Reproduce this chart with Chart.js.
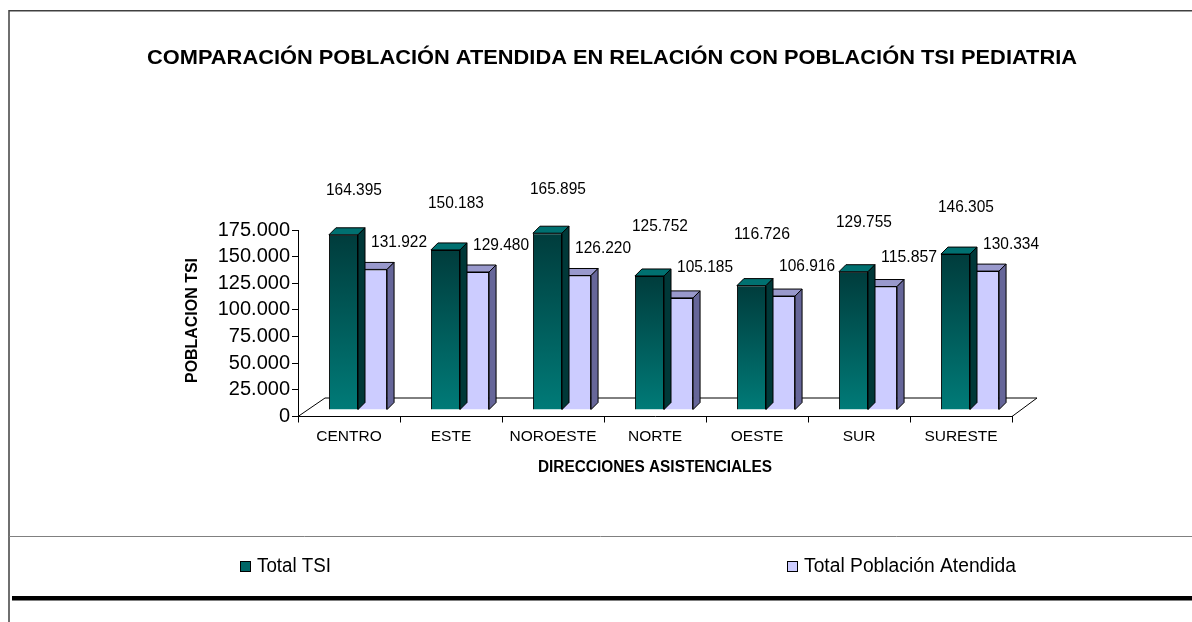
<!DOCTYPE html>
<html>
<head>
<meta charset="utf-8">
<script src="https://cdn.jsdelivr.net/npm/chart.js@4.4.1/dist/chart.umd.min.js"></script>
<style>
  html, body { margin: 0; padding: 0; background: #fff; }
  canvas { display: block; }
</style>
</head>
<body>
<canvas id="c" width="1192" height="622"></canvas>
<script>
// ---- data ----
const categories = ['CENTRO', 'ESTE', 'NOROESTE', 'NORTE', 'OESTE', 'SUR', 'SURESTE'];
const totalTSI = [164395, 150183, 165895, 125752, 116726, 129755, 146305];
const totalAtendida = [131922, 129480, 126220, 105185, 106916, 115857, 130334];
const seriesNames = ['Total TSI', 'Total Población Atendida'];
const yTickStep = 25000;
const yMax = 175000;
const chartTitle = 'COMPARACIÓN POBLACIÓN ATENDIDA EN RELACIÓN CON POBLACIÓN TSI PEDIATRIA';
const yTitle = 'POBLACION TSI';
const xTitle = 'DIRECCIONES ASISTENCIALES';

// ---- styles ----
const FONT = "'Liberation Sans', Arial, Helvetica, sans-serif";
const fmt = v => String(Math.round(v)).replace(/\B(?=(\d{3})+(?!\d))/g, '.');
const SHIFT_X = 9, SHIFT_Y = -6.5, DEPTH = 7;
const faceColors = [
  { top: '#007070', side: '#003838', legend: '#006666' },
  { top: '#9999CC', side: '#666699', legend: '#CCCCFF' }
];

function fitText(ctx, text, cx, cy, width, font, rotate) {
  ctx.save();
  ctx.font = font;
  const w = ctx.measureText(text).width;
  ctx.translate(cx, cy);
  if (rotate) ctx.rotate(-Math.PI / 2);
  ctx.scale(width / w, 1);
  ctx.textAlign = 'center';
  ctx.textBaseline = 'middle';
  ctx.fillStyle = '#000';
  ctx.fillText(text, 0, 0);
  ctx.restore();
}
function leftText(ctx, text, x, cy, width, font) {
  ctx.save();
  ctx.font = font;
  const w = ctx.measureText(text).width;
  ctx.translate(x, cy);
  ctx.scale(width / w, 1);
  ctx.textAlign = 'left';
  ctx.textBaseline = 'middle';
  ctx.fillStyle = '#000';
  ctx.fillText(text, 0, 0);
  ctx.restore();
}

const framePlugin = {
  id: 'frame',
  beforeDraw(chart) {
    const ctx = chart.ctx;
    ctx.save();
    ctx.fillStyle = '#fff';
    ctx.fillRect(0, 0, chart.width, chart.height);
    ctx.strokeStyle = '#404040';
    ctx.lineWidth = 1.5;
    ctx.beginPath();
    ctx.moveTo(9, 622); ctx.lineTo(9, 10.75); ctx.lineTo(1192, 10.75);
    ctx.stroke();
    ctx.strokeStyle = '#808080';
    ctx.lineWidth = 1;
    ctx.beginPath();
    ctx.moveTo(9, 536.5); ctx.lineTo(1192, 536.5);
    ctx.stroke();
    ctx.fillStyle = '#000';
    ctx.fillRect(12, 596, 1180, 4.5);
    ctx.restore();
  },
  beforeDatasetsDraw(chart) {
    const ctx = chart.ctx, a = chart.chartArea;
    ctx.save();
    ctx.strokeStyle = '#000';
    ctx.lineWidth = 1;
    const dx = 25, dy = 18.5;
    ctx.beginPath();
    ctx.moveTo(a.left, a.bottom); ctx.lineTo(a.left + dx + 2, a.bottom - dy);
    ctx.lineTo(a.right + dx, a.bottom - dy); ctx.lineTo(a.right, a.bottom);
    ctx.stroke();
    ctx.restore();
  },
  afterDraw(chart) {
    const ctx = chart.ctx;
    fitText(ctx, chartTitle, 612, 58, 930, 'bold 20px ' + FONT);
    fitText(ctx, yTitle, 193, 320.5, 125, 'bold 16px ' + FONT, true);
    fitText(ctx, xTitle, 655, 468, 234, 'bold 16px ' + FONT);
    // legend
    const items = [{ x: 240, w: 74 }, { x: 787, w: 212 }];
    items.forEach((it, i) => {
      ctx.save();
      ctx.fillStyle = faceColors[i].legend;
      ctx.fillRect(it.x + 0.5, 561.5, 10, 10);
      ctx.strokeStyle = '#000';
      ctx.lineWidth = 1;
      ctx.strokeRect(it.x + 0.5, 561.5, 10, 10);
      ctx.restore();
      leftText(ctx, seriesNames[i], it.x + 17, 566, it.w, '20px ' + FONT);
    });
  }
};

const bars3dPlugin = {
  id: 'bars3d',
  beforeDatasetDraw(chart) {
    chart.ctx.save();
    chart.ctx.translate(SHIFT_X, SHIFT_Y);
  },
  afterDatasetDraw(chart, args) {
    const ctx = chart.ctx;
    const meta = chart.getDatasetMeta(args.index);
    const col = faceColors[args.index];
    meta.data.forEach(bar => {
      const p = bar.getProps(['x', 'y', 'base', 'width'], true);
      const l = p.x - p.width / 2, r = p.x + p.width / 2, t = p.y, b = p.base;
      ctx.lineWidth = 1;
      ctx.strokeStyle = '#000';
      ctx.lineJoin = 'round';
      // top face
      ctx.beginPath();
      ctx.moveTo(l, t); ctx.lineTo(l + DEPTH, t - DEPTH);
      ctx.lineTo(r + DEPTH, t - DEPTH); ctx.lineTo(r, t); ctx.closePath();
      ctx.fillStyle = col.top; ctx.fill(); ctx.stroke();
      // side face
      ctx.beginPath();
      ctx.moveTo(r, t); ctx.lineTo(r + DEPTH, t - DEPTH);
      ctx.lineTo(r + DEPTH, b - DEPTH); ctx.lineTo(r, b); ctx.closePath();
      ctx.fillStyle = col.side; ctx.fill(); ctx.stroke();
    });
    ctx.restore();
  },
  afterDatasetsDraw(chart) {
    const ctx = chart.ctx, ys = chart.scales.y;
    // label placement rule (Excel 3D label layout)
    const rule = [{ k: 0.8586, c: -75.5, dx: 19.5 }, { k: 0.877, c: -50.5, dx: 35.5 }];
    ctx.save();
    ctx.fillStyle = '#000';
    chart.data.datasets.forEach((ds, di) => {
      const meta = chart.getDatasetMeta(di);
      meta.data.forEach((bar, i) => {
        const v = ds.data[i];
        const y = ys.getPixelForValue(v * rule[di].k) + rule[di].c;
        fitText(ctx, fmt(v), bar.x + rule[di].dx, y, 56, '17px ' + FONT);
      });
    });
    ctx.restore();
  }
};

const chart = new Chart(document.getElementById('c'), {
  type: 'bar',
  data: {
    labels: categories,
    datasets: [
      {
        label: seriesNames[0],
        data: totalTSI,
        backgroundColor: (ctx) => {
          const c = ctx.chart;
          if (!c.chartArea || ctx.raw === undefined) return '#006666';
          const ys = c.scales.y;
          const top = ys.getPixelForValue(ctx.raw), bot = ys.getPixelForValue(0);
          const g = c.ctx.createLinearGradient(0, top, 0, bot);
          g.addColorStop(0, '#003c3c');
          g.addColorStop(1, '#007b78');
          return g;
        },
        borderColor: '#000',
        borderWidth: 1
      },
      {
        label: seriesNames[1],
        data: totalAtendida,
        backgroundColor: '#CCCCFF',
        borderColor: '#000',
        borderWidth: 1
      }
    ]
  },
  options: {
    responsive: false,
    animation: false,
    devicePixelRatio: 1,
    layout: { padding: { top: 230, right: 180, left: 0, bottom: 0 } },
    datasets: { bar: { categoryPercentage: 0.57, barPercentage: 1.0 } },
    plugins: { legend: { display: false }, title: { display: false }, tooltip: { enabled: false } },
    scales: {
      x: {
        grid: { display: true, drawOnChartArea: false, tickLength: 6, color: '#000', offset: true },
        border: { display: true, color: '#000', width: 1 },
        ticks: { color: '#000', font: { family: FONT, size: 15.5 }, padding: 5, maxRotation: 0, autoSkip: false },
        afterFit: s => { s.height = 205.5; }
      },
      y: {
        min: 0, max: yMax,
        grid: { display: true, drawOnChartArea: false, tickLength: 6, color: '#000' },
        border: { display: true, color: '#000', width: 1 },
        ticks: { stepSize: yTickStep, autoSkip: false, color: '#000', font: { family: FONT, size: 20 }, padding: 2, callback: v => fmt(v) },
        afterFit: s => { s.width = 298; }
      }
    }
  },
  plugins: [framePlugin, bars3dPlugin]
});
</script>
</body>
</html>
